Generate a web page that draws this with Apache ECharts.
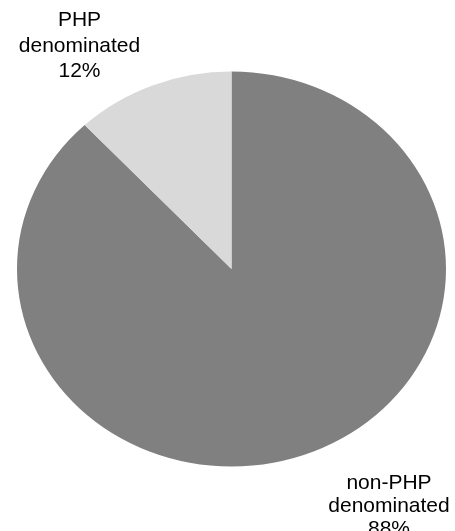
<!DOCTYPE html>
<html>
<head>
<meta charset="utf-8">
<script src="https://cdn.jsdelivr.net/npm/echarts@6/dist/echarts.min.js"></script>
<style>
html,body{margin:0;padding:0;background:#fff;}
#chart{width:455px;height:531px;}
</style>
</head>
<body>
<div id="chart"></div>
<script>
// Data
const categories = ['non-PHP\ndenominated', 'PHP\ndenominated'];
const values = [88, 12];
const sliceColors = ['#808080', '#d9d9d9'];

const total = values.reduce((a, b) => a + b, 0);
const CX = 231.5, CY = 269, R = 214.5, SY = 0.9207;

const chart = echarts.init(document.getElementById('chart'), null, {renderer: 'canvas'});

const option = {
  backgroundColor: '#ffffff',
  animation: false,
  series: [{
    type: 'custom',
    coordinateSystem: 'none',
    data: values.map((v, i) => ({value: v, name: categories[i]})),
    renderItem: function (params, api) {
      const idx = params.dataIndex;
      let before = 0;
      for (let k = 0; k < idx; k++) before += values[k];
      const v = api.value(0);
      const start = -Math.PI / 2 + before / total * Math.PI * 2;
      const end = start + v / total * Math.PI * 2;
      return {
        type: 'sector',
        x: CX,
        y: CY,
        scaleY: SY,
        shape: {cx: 0, cy: 0, r0: 0, r: R, startAngle: start, endAngle: end, clockwise: true},
        style: {fill: sliceColors[idx], stroke: null}
      };
    }
  }],
  graphic: [
    {
      type: 'text',
      x: 79.5, y: 46,
      style: {
        text: categories[1] + '\n' + values[1] + '%',
        font: '21px "Liberation Sans", Arial, sans-serif',
        fill: '#000000',
        align: 'center',
        verticalAlign: 'middle',
        lineHeight: 25.5
      }
    },
    {
      type: 'text',
      x: 389, y: 506,
      style: {
        text: categories[0] + '\n' + values[0] + '%',
        font: '21px "Liberation Sans", Arial, sans-serif',
        fill: '#000000',
        align: 'center',
        verticalAlign: 'middle',
        lineHeight: 23
      }
    }
  ]
};
chart.setOption(option);
</script>
</body>
</html>
